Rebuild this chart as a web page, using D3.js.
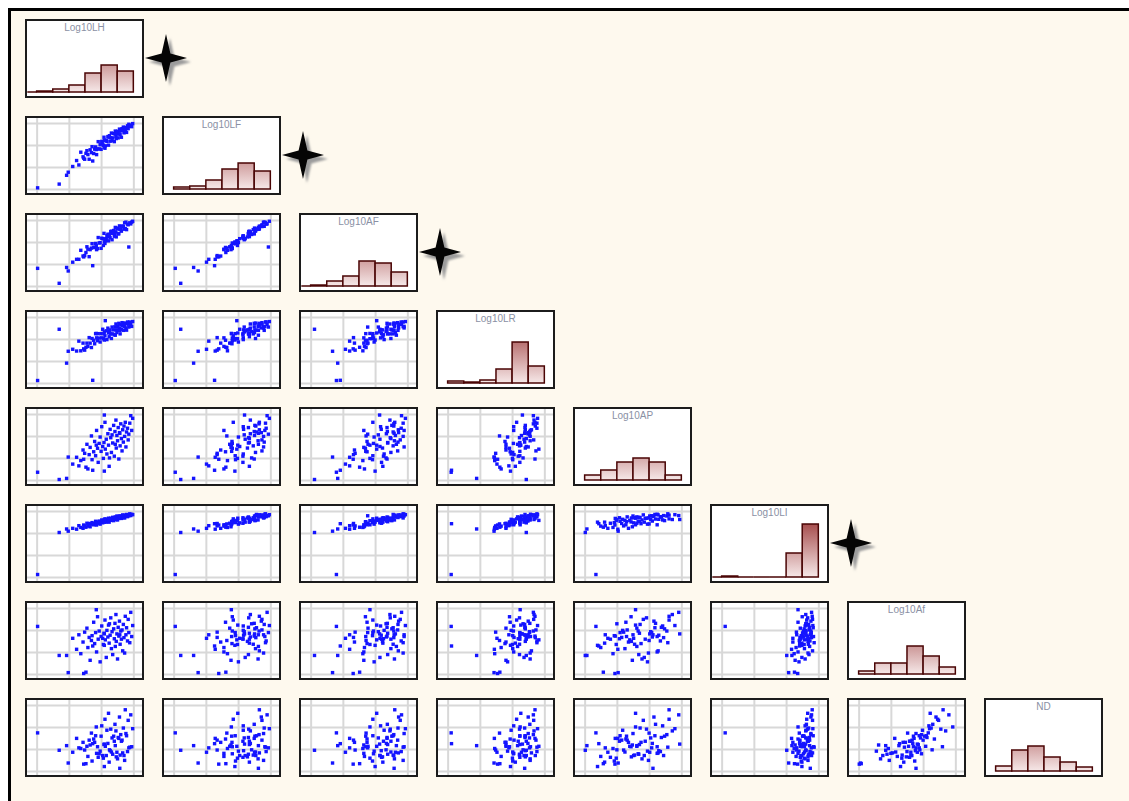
<!DOCTYPE html>
<html>
<head>
<meta charset="utf-8">
<script src="https://cdn.jsdelivr.net/npm/d3@7"></script>
<style>
  body { margin: 0; background: #ffffff; }
  svg { display: block; }
</style>
</head>
<body>
<svg id="chart" width="1129" height="801"></svg>
<script>
// Variable names, in matrix order
const varNames = ["Log10LH", "Log10LF", "Log10AF", "Log10LR", "Log10AP", "Log10LI", "Log10Af", "ND"];

// One value per specimen for each variable (78 specimens)
const LH = [0.03,0.70,1.74,0.93,0.98,1.12,1.24,1.31,1.37,1.44,
            1.46,1.49,1.53,1.56,1.59,1.63,1.66,1.70,1.72,1.77,
            1.80,1.83,1.86,1.89,1.91,1.94,1.97,2.00,2.02,2.05,
            2.07,2.09,2.12,2.13,2.16,2.18,2.21,2.23,2.25,2.28,
            2.30,2.32,2.34,2.36,2.39,2.41,2.43,2.44,2.46,2.47,
            2.49,2.51,2.53,2.55,2.57,2.59,2.61,2.63,2.65,2.67,
            2.69,2.71,2.73,2.75,2.77,2.79,2.82,2.84,2.86,2.89,
            2.92,2.95,2.98,2.10,2.10,2.26,1.85,2.58];
const LF = [0.05,0.22,1.27,0.62,0.76,1.02,1.29,1.09,1.67,1.46,
            1.40,1.35,1.62,1.74,1.56,1.35,1.78,1.65,1.92,1.61,
            1.81,1.91,1.56,1.82,2.15,1.82,2.01,1.80,2.16,2.05,
            1.98,2.35,1.85,1.96,2.22,2.16,2.38,1.99,2.35,2.17,
            2.33,2.54,2.19,2.32,2.52,2.15,2.50,2.63,2.38,2.29,
            2.51,2.62,2.32,2.50,2.72,2.47,2.65,2.35,2.74,2.66,
            2.81,2.55,2.79,2.66,2.79,2.57,2.87,2.74,2.94,2.85,
            2.90,2.83,2.97,2.20,1.90,2.42,1.79,2.63];
const AF = [0.80,0.12,0.92,0.84,0.68,1.08,1.21,1.21,1.62,1.36,
            1.32,1.38,1.52,1.78,1.67,1.33,1.65,1.72,1.92,1.75,
            1.75,1.93,1.65,1.70,2.20,1.95,1.97,1.71,2.17,2.15,
            1.84,2.39,1.93,2.05,2.15,2.28,2.35,2.05,2.24,2.19,
            2.47,2.49,2.10,2.39,2.52,2.26,2.38,2.66,2.46,2.23,
            2.63,2.60,2.37,2.37,2.73,2.56,2.58,2.49,2.70,2.72,
            2.71,2.58,2.87,2.61,2.90,2.56,2.81,2.78,1.77,2.87,
            2.82,2.90,2.94,2.14,2.00,2.34,1.84,2.59];
const LR = [0.11,2.44,0.12,0.90,1.44,1.53,1.45,1.90,1.46,1.81,
            1.55,1.49,1.62,1.81,1.66,2.06,1.81,1.61,2.02,1.94,
            1.78,2.24,2.05,1.92,2.24,2.04,1.86,2.24,2.05,2.44,
            2.01,2.24,2.14,2.83,2.37,1.97,2.49,2.27,2.10,2.41,
            2.23,2.02,2.54,2.23,2.41,2.19,2.55,2.17,2.68,2.41,
            2.29,2.56,2.40,2.71,2.50,2.23,2.66,2.44,2.74,2.60,
            2.39,2.72,2.56,2.71,2.50,2.40,2.77,2.67,2.54,2.77,
            2.66,2.57,2.79,2.32,1.95,2.34,2.25,2.39];
const AP = [0.35,0.02,0.44,0.07,1.04,0.72,1.03,0.64,0.88,1.36,
            0.94,1.21,0.58,1.62,0.50,1.15,1.48,2.00,0.92,1.28,
            1.75,1.10,2.25,1.44,0.80,1.66,1.95,1.30,2.42,1.52,
            0.98,1.70,2.62,1.40,1.85,1.18,2.10,1.58,0.62,2.30,
            1.92,1.25,2.05,1.68,2.48,1.08,2.20,1.62,2.72,1.45,
            2.02,1.78,2.38,0.95,2.15,1.55,2.55,1.88,1.32,2.28,
            1.72,2.45,1.98,2.62,1.50,2.18,2.35,1.82,2.08,2.58,
            2.92,2.25,2.80,2.95,0.40,1.00,1.58,2.12];
const LI = [0.11,2.02,2.42,2.18,2.08,2.21,2.17,2.33,2.25,2.21,
            2.36,2.32,2.26,2.44,2.31,2.43,2.28,2.41,2.47,2.37,
            2.42,2.53,2.37,2.50,2.44,2.54,2.40,2.51,2.59,2.46,
            2.56,2.51,2.64,2.57,2.49,2.62,2.54,2.67,2.49,2.62,
            2.67,2.57,2.61,2.71,2.56,2.69,2.63,2.73,2.61,2.68,
            2.77,2.59,2.72,2.66,2.77,2.69,2.77,2.66,2.73,2.82,
            2.70,2.79,2.68,2.81,2.77,2.84,2.74,2.82,2.78,2.87,
            2.79,2.85,2.83,2.61,2.49,2.61,2.37,2.75];
const Af = [2.16,0.84,1.27,0.84,0.06,1.62,1.12,1.78,0.92,1.45,
            0.02,1.90,0.08,2.08,1.20,1.66,0.62,1.52,1.74,2.35,
            1.38,1.88,1.00,2.60,1.58,1.95,0.55,1.70,2.18,1.62,
            1.34,1.85,2.45,1.55,0.75,1.98,1.68,2.22,1.40,1.76,
            2.55,1.15,1.92,0.88,2.05,1.60,2.30,1.25,2.70,1.48,
            1.82,0.68,2.12,1.72,2.40,1.35,1.95,1.58,2.00,1.05,
            2.25,1.65,0.95,2.62,1.78,2.10,1.50,2.48,1.88,1.42,
            2.80,1.70,2.20,1.82,1.30,2.28,2.92,1.78];
const ND = [1.73,0.94,1.24,1.15,0.36,0.85,1.48,1.05,1.02,1.30,
            0.31,0.95,0.33,1.12,0.66,1.40,1.18,1.72,0.45,1.45,
            1.30,1.60,0.80,1.10,0.62,0.78,0.90,1.58,2.05,0.70,
            0.58,1.20,2.35,1.12,0.70,1.85,1.25,2.62,0.40,0.92,
            1.90,0.86,1.50,0.76,1.58,1.35,2.12,1.15,1.82,0.64,
            0.85,0.55,1.52,1.48,2.45,0.72,1.65,1.35,1.40,0.82,
            1.95,0.70,0.48,2.78,1.70,1.60,0.88,2.30,1.05,1.08,
            2.55,1.10,1.92,1.22,0.20,0.96,2.00,0.12];
const columns = [LH, LF, AF, LR, AP, LI, Af, ND];

// Histogram counts per variable, bins of width 0.5 starting at histStart
const histStart = [-0.5, 0, -0.5, 0, 0, -0.5, 0, 0];
const histLH = [0, 1, 3, 7, 19, 27, 21];
const histLF = [2, 3, 9, 20, 26, 18];
const histAF = [0, 1, 5, 10, 25, 23, 14];
const histLR = [2, 1, 3, 14, 41, 17];
const histAP = [5, 10, 18, 22, 18, 5];
const histLI = [0, 1, 0, 0, 0, 24, 53];
const histAf = [3, 11, 11, 28, 18, 7];
const histND = [5, 21, 25, 14, 9, 4];
const histCounts = [histLH, histLF, histAF, histLR, histAP, histLI, histAf, histND];
const binWidth = 0.5;

// Variables flagged with a star next to their histogram
const starred = ["Log10LH", "Log10LF", "Log10AF", "Log10LI"];

// Reference grid values shared by all axes
const gridValues = [0, 1, 2, 3];

// ---- layout ----
const cellW = 117, cellH = 77, stepX = 137, stepY = 97, originX = 26, originY = 20;
const baseline = 72;
const dot = 3.4;

const svg = d3.select("#chart");

// Outer frame with cream background
svg.append("rect")
  .attr("x", 9.5).attr("y", 9.5)
  .attr("width", 1140).attr("height", 820)
  .attr("fill", "#fef9ee")
  .attr("stroke", "#000").attr("stroke-width", 3);

const defs = svg.append("defs");
const grad = defs.append("linearGradient")
  .attr("id", "barFill")
  .attr("gradientUnits", "userSpaceOnUse")
  .attr("x1", 0).attr("x2", 0)
  .attr("y1", baseline).attr("y2", 8);
grad.append("stop").attr("offset", 0).attr("stop-color", "#f6e8e8");
grad.append("stop").attr("offset", 1).attr("stop-color", "#962f2f");

const shadowBlur = defs.append("filter").attr("id", "soft")
  .attr("x", "-20%").attr("y", "-20%").attr("width", "140%").attr("height", "140%");
shadowBlur.append("feGaussianBlur").attr("stdDeviation", 0.8);

const clip = defs.append("clipPath").attr("id", "cellClip");
clip.append("rect").attr("x", 1).attr("y", 1).attr("width", cellW - 2).attr("height", cellH - 2);

const x = d3.scaleLinear().domain([-0.33, 3.3]).range([0, cellW]);
const y = d3.scaleLinear().domain([-0.23, 3.27]).range([cellH, 0]);
const yCount = d3.scaleLinear().domain([0, 72]).range([baseline, 0]);

const n = varNames.length;

for (let i = 0; i < n; i++) {
  for (let j = 0; j <= i; j++) {
    const g = svg.append("g")
      .attr("transform", `translate(${originX + stepX * j},${originY + stepY * i})`);

    g.append("rect")
      .attr("width", cellW).attr("height", cellH)
      .attr("fill", "#ffffff");

    if (j < i) {
      // scatter cell: x = variable j, y = variable i
      const gx = g.append("g")
        .attr("transform", `translate(0,${cellH})`)
        .call(d3.axisBottom(x).tickValues(gridValues).tickSize(-cellH).tickFormat(""));
      const gy = g.append("g")
        .call(d3.axisLeft(y).tickValues(gridValues).tickSize(-cellW).tickFormat(""));
      [gx, gy].forEach(a => {
        a.select(".domain").remove();
        a.selectAll(".tick line").attr("stroke", "#d8d8d8").attr("stroke-width", 2);
      });

      const xs = columns[j], ys = columns[i];
      g.append("g").attr("clip-path", "url(#cellClip)")
        .selectAll("rect")
        .data(d3.range(xs.length))
        .join("rect")
        .attr("x", k => x(xs[k]) - dot / 2)
        .attr("y", k => y(ys[k]) - dot / 2)
        .attr("width", dot).attr("height", dot)
        .attr("fill", "#1414ff");
    } else {
      // diagonal cell: histogram of variable i
      const counts = histCounts[i];
      const lo = x.domain()[0] + 0.04;
      const bins = counts.map((c, k) => ({
        x0: Math.max(lo, histStart[i] + k * binWidth),
        x1: histStart[i] + (k + 1) * binWidth,
        count: c
      }));
      // bars as closed paths so empty bins still show as a line on the baseline
      g.append("g")
        .selectAll("path")
        .data(bins)
        .join("path")
        .attr("d", d => {
          const x0 = x(d.x0), x1 = x(d.x1), b = yCount(0), t = yCount(d.count);
          return `M${x0},${b}V${t}H${x1}V${b}Z`;
        })
        .attr("fill", "url(#barFill)")
        .attr("stroke", "#4a0505")
        .attr("stroke-width", 1.5)
        .attr("stroke-linejoin", "miter");

      g.append("text")
        .attr("x", cellW / 2).attr("y", 10.5)
        .attr("text-anchor", "middle")
        .attr("font-family", "'Liberation Sans', Arial, sans-serif")
        .attr("font-size", 10)
        .attr("fill", "#8a90a4")
        .text(varNames[i]);

      if (starred.includes(varNames[i])) {
        const cx = cellW + 23, cy = 38;
        const star = "M0,-24 L4.4,-4.4 L21,0 L4.4,4.4 L0,24 L-4.4,4.4 L-21,0 L-4.4,-4.4 Z";
        g.append("path")
          .attr("d", star)
          .attr("transform", `translate(${cx + 4},${cy + 4})`)
          .attr("fill", "#9c9c9c")
          .attr("filter", "url(#soft)");
        g.append("path")
          .attr("d", star)
          .attr("transform", `translate(${cx},${cy})`)
          .attr("fill", "#050505");
      }
    }

    g.append("rect")
      .attr("width", cellW).attr("height", cellH)
      .attr("fill", "none")
      .attr("stroke", "#1c1c1c")
      .attr("stroke-width", 2);
  }
}
</script>
</body>
</html>
